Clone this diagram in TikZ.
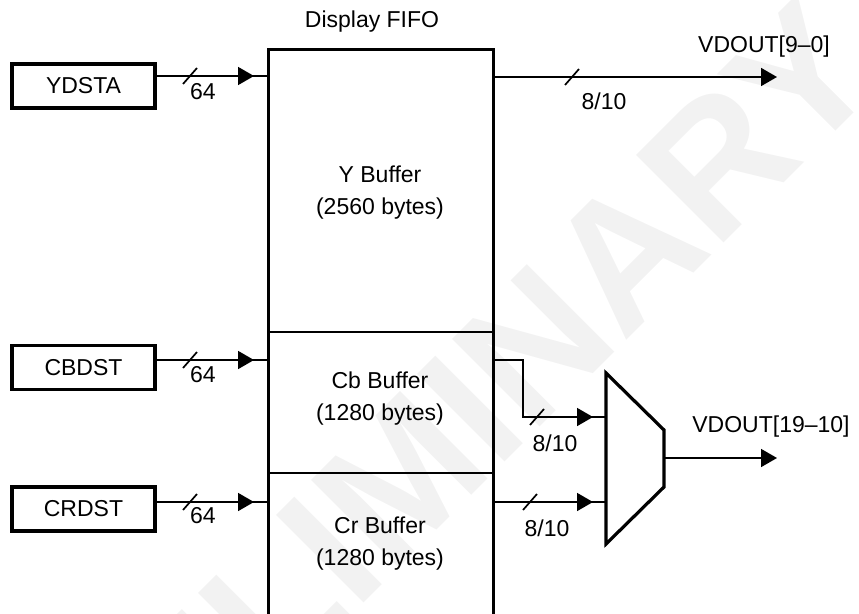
\documentclass[tikz,border=0pt]{standalone}
\usepackage{fontspec}
\setmainfont{Liberation Sans}
\usetikzlibrary{arrows.meta,calc,decorations.markings}

\newcommand\busmark[1]{\draw[wire] ($(#1)+(-7,8)$) -- ($(#1)+(7,-8)$);}

\begin{document}
\begin{tikzpicture}[x=1pt, y=-1pt,
                    font=\fontsize{23}{32}\selectfont,
                    wire/.style={line width=1.7pt},
                    frame/.style={draw, line width=3.2pt},
                    regbox/.style={frame, minimum width=143pt, minimum height=44pt},
                    into/.style={postaction={decorate},
                      decoration={markings, mark=at position -13pt with
                        {\arrow{Triangle[length=16pt,width=18pt]}}}},
                    outarrow/.style={-{Triangle[length=16pt,width=18pt]}}]
  \path[use as bounding box, clip] (0,0) rectangle (859,613);
  \node[rotate=45, anchor=base east, inner sep=0pt, text=gray!10,
        font=\fontsize{180}{180}\selectfont\bfseries]
    (wm) at (888,79) {PRELIMINARY};

  % source registers
  \node[regbox] (ydsta) at (83.5,86) {YDSTA};
  \node[regbox] (cbdst) at (83.5,367.5) {CBDST};
  \node[regbox] (crdst) at (83.5,509) {CRDST};

  % fifo
  \node[frame, minimum width=225pt, minimum height=600pt, anchor=north west]
    (fifo) at (267,48) {};
  \node (ttl) at (372,22) {Display FIFO};
  \draw[line width=1.4pt] (267,332) -- (492,332);
  \draw[line width=1.4pt] (267,473) -- (492,473);
  \node[align=center] (ybuf) at (380,193) {Y Buffer\\(2560 bytes)};
  \node[align=center] (cbbuf) at (380,399) {Cb Buffer\\(1280 bytes)};
  \node[align=center] (crbuf) at (380,544) {Cr Buffer\\(1280 bytes)};

  % mux
  \coordinate (muxa) at (606,373);
  \coordinate (muxb) at (664,430);
  \coordinate (muxc) at (664,487);
  \coordinate (muxd) at (606,544);
  \draw[line width=3.2pt, line join=miter] (muxa) -- (muxb) -- (muxc) -- (muxd) -- cycle;
  \coordinate (muxin1) at (606,417);
  \coordinate (muxin2) at (606,502);
  \coordinate (muxout) at (664,458);

  \coordinate (yin) at (267,76);
  \coordinate (cbin) at (267,360);
  \coordinate (crin) at (267,502);
  \coordinate (yout) at (492,77);
  \coordinate (cbout) at (492,360);
  \coordinate (crout) at (492,502);
  \coordinate (lo) at (777,77);
  \coordinate (hi) at (777,458);

  % connections
  \draw[wire, into] (ydsta.east |- yin) -- (yin);
  \draw[wire, into] (cbdst.east |- cbin) -- (cbin);
  \draw[wire, into] (crdst.east |- crin) -- (crin);
  \draw[wire, outarrow] (yout) -- (lo);
  \draw[wire, into] (cbout) -| ($(muxin1)+(-83,0)$) -- (muxin1);
  \draw[wire, into] (crout) -- (muxin2);
  \draw[wire, outarrow] (muxout) -- (hi);

  % bus widths
  \busmark{190,76}
  \busmark{190,360}
  \busmark{190,502}
  \busmark{572,77}
  \busmark{537,417}
  \busmark{530,502}
  \node (w1) at (203,92) {64};
  \node (w2) at (203,375) {64};
  \node (w3) at (203,516) {64};
  \node (w4) at (604,101) {8/10};
  \node (w5) at (555,443) {8/10};
  \node (w6) at (547,528) {8/10};
  \node (vlo) at (764,47) {VDOUT[9--0]};
  \node (vhi) at (771,427) {VDOUT[19--10]};
\end{tikzpicture}
\end{document}
